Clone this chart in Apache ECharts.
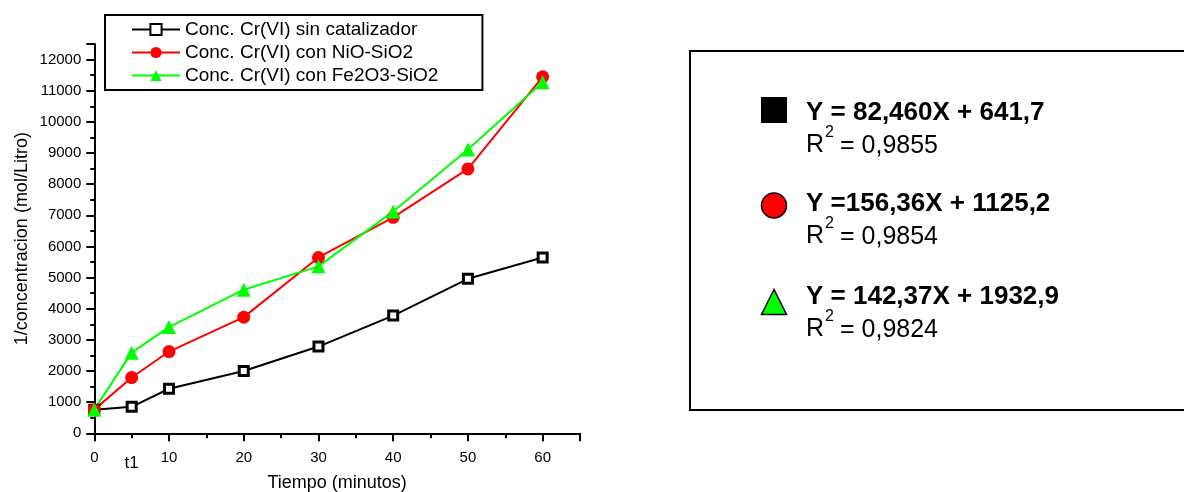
<!DOCTYPE html>
<html>
<head>
<meta charset="utf-8">
<script src="https://cdn.jsdelivr.net/npm/echarts@6/dist/echarts.min.js"></script>
<style>
  html, body { margin: 0; padding: 0; background: #fff; }
  #chart { width: 1184px; height: 492px; }
</style>
</head>
<body>
<div id="chart"></div>
<script>
// tiempo (minutos)
var times = [0, 5, 10, 20, 30, 40, 50, 60];
// 1/concentracion (mol/Litro)
var sinCatalizador = [760, 850, 1430, 2000, 2785, 3780, 4960, 5645];
var conNiO = [760, 1790, 2625, 3730, 5645, 6935, 8490, 11445];
var conFe2O3 = [760, 2590, 3410, 4610, 5360, 7125, 9110, 11275];

var seriesNames = ['Conc. Cr(VI) sin catalizador', 'Conc. Cr(VI) con NiO-SiO2', 'Conc. Cr(VI) con Fe2O3-SiO2'];
var extraXLabels = [[5, 't1']];
var eqTexts = ['Y = 82,460X + 641,7', 'Y =156,36X + 1125,2', 'Y = 142,37X + 1932,9'];
var r2Texts = ['= 0,9855', '= 0,9854', '= 0,9824'];

var FONT = 'Arial, "Liberation Sans", sans-serif';

function pairs(ys) {
    return times.map(function (t, i) { return [t, ys[i]]; });
}

var chart = echarts.init(document.getElementById('chart'));

// caja de ecuaciones (derecha)
var rowY = [112.5, 204, 296.5];
var boxGraphics = [
    { type: 'rect', shape: { x: 690, y: 51, width: 600, height: 359 },
      style: { fill: '#fff', stroke: '#000', lineWidth: 2 } },
    { type: 'rect', shape: { x: 761, y: 97, width: 26, height: 26 }, style: { fill: '#000' } },
    { type: 'circle', shape: { cx: 774, cy: 205.5, r: 12.5 },
      style: { fill: '#ff0000', stroke: '#000', lineWidth: 1.5 } },
    { type: 'polygon', shape: { points: [[774, 289.5], [761.5, 314.5], [786.5, 314.5]] },
      style: { fill: '#00ff00', stroke: '#000', lineWidth: 1.5 } }
];
eqTexts.forEach(function (txt, i) {
    var y = rowY[i];
    boxGraphics.push({ type: 'text', x: 806, y: y,
        style: { text: txt, font: 'bold 26px ' + FONT, fill: '#000', verticalAlign: 'middle' } });
    boxGraphics.push({ type: 'text', x: 806, y: y + 32.5,
        style: { text: 'R', font: '25px ' + FONT, fill: '#000', verticalAlign: 'middle' } });
    boxGraphics.push({ type: 'text', x: 825, y: y + 20,
        style: { text: '2', font: '16px ' + FONT, fill: '#000', verticalAlign: 'middle' } });
    boxGraphics.push({ type: 'text', x: 840, y: y + 33.5,
        style: { text: r2Texts[i], font: '25px ' + FONT, fill: '#000', verticalAlign: 'middle' } });
});

option = {
    animation: false,
    backgroundColor: '#fff',
    textStyle: { fontFamily: FONT },
    grid: {
        left: 94.3,
        right: 604,
        top: 44,
        bottom: 58.7,
        outerBoundsMode: 'none'
    },
    legend: {
        left: 105,
        top: 15,
        orient: 'vertical',
        data: seriesNames,
        itemWidth: 48,
        itemHeight: 14,
        itemGap: 4,
        padding: [5, 44, 5, 26],
        borderColor: '#000',
        borderWidth: 2,
        borderRadius: 0,
        backgroundColor: '#fff',
        textStyle: { fontSize: 19, color: '#000', fontFamily: FONT }
    },
    xAxis: [
        {
            type: 'value',
            min: 0,
            max: 65,
            interval: 10,
            name: 'Tiempo (minutos)',
            nameLocation: 'middle',
            nameGap: 41,
            nameTextStyle: { fontSize: 18, color: '#000', fontFamily: FONT },
            axisLine: { show: true, onZero: false, lineStyle: { color: '#000', width: 2 } },
            axisTick: { show: true, length: 8, lineStyle: { color: '#000', width: 2 } },
            minorTick: { show: true, splitNumber: 2, length: 5, lineStyle: { color: '#000', width: 2 } },
            splitLine: { show: false },
            axisLabel: {
                fontSize: 15, color: '#000', margin: 17,
                formatter: function (v) { return (v % 10 === 0 && v <= 60) ? String(v) : ''; }
            }
        },
        {
            type: 'value',
            min: 0,
            max: 65,
            interval: 5,
            position: 'bottom',
            axisLine: { show: false },
            axisTick: { show: false },
            splitLine: { show: false },
            axisLabel: {
                fontSize: 17, color: '#000', margin: 22,
                formatter: function (v) {
                    for (var i = 0; i < extraXLabels.length; i++) {
                        if (extraXLabels[i][0] === v) return extraXLabels[i][1];
                    }
                    return '';
                }
            }
        }
    ],
    yAxis: {
        type: 'value',
        min: 0,
        max: 12500,
        interval: 1000,
        name: '1/concentracion (mol/Litro)',
        nameLocation: 'middle',
        nameGap: 63,
        nameTextStyle: { fontSize: 18, color: '#000', fontFamily: FONT },
        axisLine: { show: true, lineStyle: { color: '#000', width: 2 } },
        axisTick: { show: true, length: 8, lineStyle: { color: '#000', width: 2 } },
        minorTick: { show: true, splitNumber: 2, length: 4, lineStyle: { color: '#000', width: 2 } },
        splitLine: { show: false },
        axisLabel: {
            fontSize: 15, color: '#000', margin: 13,
            formatter: function (v) { return (v % 1000 === 0 && v <= 12000) ? String(v) : ''; }
        }
    },
    series: [
        {
            name: seriesNames[0],
            type: 'line',
            data: pairs(sinCatalizador),
            symbol: 'rect',
            symbolSize: 9,
            itemStyle: { color: '#fff', borderColor: '#000', borderWidth: 3 },
            lineStyle: { color: '#000', width: 2 }
        },
        {
            name: seriesNames[1],
            type: 'line',
            data: pairs(conNiO),
            symbol: 'circle',
            symbolSize: 13,
            itemStyle: { color: '#ff0000' },
            lineStyle: { color: '#ff0000', width: 2 }
        },
        {
            name: seriesNames[2],
            type: 'line',
            data: pairs(conFe2O3),
            symbol: 'triangle',
            symbolSize: 14,
            itemStyle: { color: '#00ff00' },
            lineStyle: { color: '#00ff00', width: 2 }
        }
    ],
    graphic: boxGraphics
};

chart.setOption(option);
</script>
</body>
</html>
